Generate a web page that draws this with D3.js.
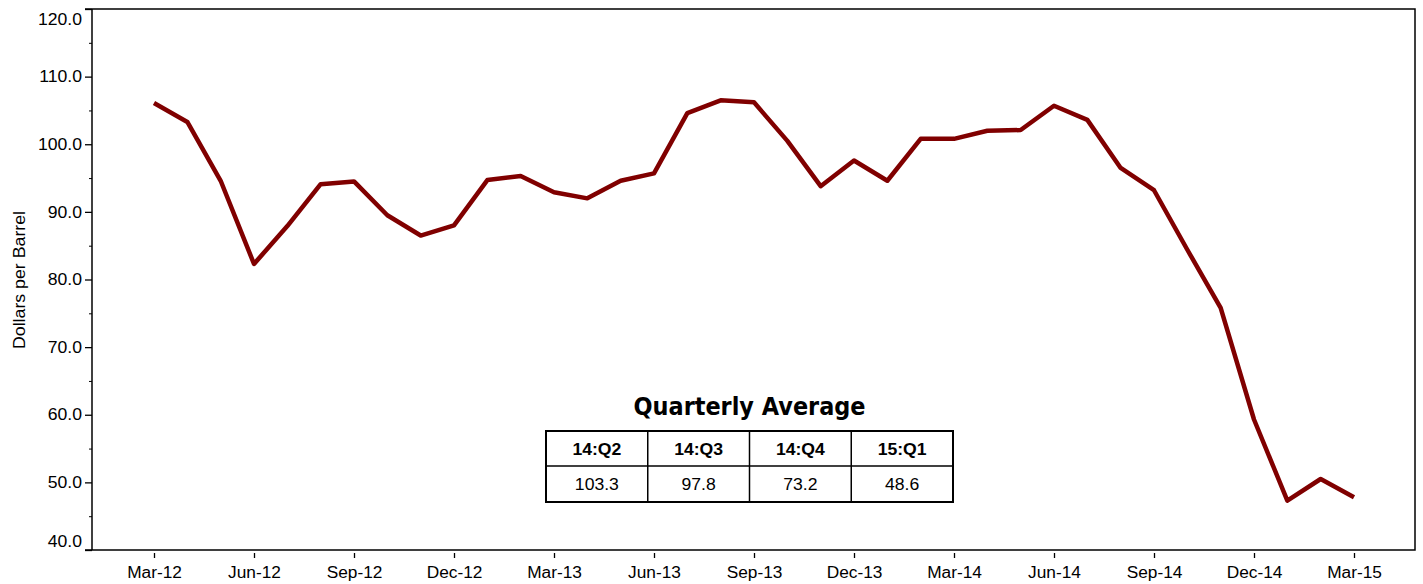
<!DOCTYPE html>
<html><head><meta charset="utf-8">
<script src="https://cdn.jsdelivr.net/npm/d3@7"></script>
<style>body{margin:0;background:#fff}svg{display:block}</style>
</head><body>
<svg id="c" width="1423" height="584"></svg>
<script>
const months = ["Mar-12","Apr-12","May-12","Jun-12","Jul-12","Aug-12","Sep-12","Oct-12","Nov-12","Dec-12",
"Jan-13","Feb-13","Mar-13","Apr-13","May-13","Jun-13","Jul-13","Aug-13","Sep-13","Oct-13","Nov-13","Dec-13",
"Jan-14","Feb-14","Mar-14","Apr-14","May-14","Jun-14","Jul-14","Aug-14","Sep-14","Oct-14","Nov-14","Dec-14",
"Jan-15","Feb-15","Mar-15"];
const prices = [106.1,103.3,94.6,82.3,87.9,94.1,94.5,89.5,86.5,88.0,
94.7,95.3,92.9,92.0,94.6,95.7,104.6,106.5,106.2,100.5,93.8,97.6,
94.6,100.8,100.8,102.0,102.1,105.7,103.6,96.5,93.2,84.4,75.8,59.3,
47.3,50.5,47.8];
const xTickLabels = ["Mar-12","Jun-12","Sep-12","Dec-12","Mar-13","Jun-13","Sep-13","Dec-13","Mar-14","Jun-14","Sep-14","Dec-14","Mar-15"];
const yTicks = [40,50,60,70,80,90,100,110,120];
const yMinorTicks = [45,55,65,75,85,95,105,115];
const quarters = ["14:Q2","14:Q3","14:Q4","15:Q1"];
const quarterAvg = ["103.3","97.8","73.2","48.6"];

const FONT = "Arial, 'Liberation Sans', sans-serif";
const svg = d3.select("#c");
const L = 92, R = 1415, T = 9, B = 550;
const x = d3.scaleLinear().domain([0, months.length-1]).range([154, 1354]);
const y = d3.scaleLinear().domain([40,120]).range([B, T]);

function stretch(sel, k) {
  sel.each(function(){
    const w = this.getComputedTextLength();
    d3.select(this).attr("textLength", w*k).attr("lengthAdjust","spacingAndGlyphs");
  });
}

// frame
svg.append("path").attr("d", `M${L-7},${T}H${R}V${B}H${L-7}`).attr("fill","none").attr("stroke","#000").attr("stroke-width",1.5);
svg.append("line").attr("x1",L).attr("x2",L).attr("y1",T).attr("y2",B).attr("stroke","#000").attr("stroke-width",1.5);

// y axis
const yAxis = svg.append("g").attr("transform",`translate(${L},0)`)
  .call(d3.axisLeft(y).tickValues(yTicks).tickSize(7).tickPadding(3).tickFormat(d3.format(".1f")));
yAxis.select(".domain").remove();
yAxis.selectAll("text").attr("font-family",FONT).attr("font-size",16).attr("fill","#000").call(stretch,1.1);
yAxis.selectAll(".tick").filter(d => d === 120).select("text").attr("y", 10);
yAxis.selectAll(".tick").filter(d => d === 40).select("text").attr("y", -9);
yAxis.selectAll("line").attr("stroke-width",1.3);
const yMinor = svg.append("g").attr("transform",`translate(${L},0)`)
  .call(d3.axisLeft(y).tickValues(yMinorTicks).tickSize(3).tickFormat(""));
yMinor.select(".domain").remove();

// x axis
const xAxis = svg.append("g").attr("transform",`translate(0,${B+3})`)
  .call(d3.axisBottom(x).tickValues(xTickLabels.map(l => months.indexOf(l))).tickSize(5).tickPadding(9)
  .tickFormat(i => months[i]));
xAxis.select(".domain").remove();
xAxis.selectAll("text").attr("font-family",FONT).attr("font-size",16).attr("fill","#000").call(stretch,1.08);
xAxis.selectAll("line").attr("stroke-width",1.3);

// y label
svg.append("text").attr("transform","translate(25,280) rotate(-90)").attr("text-anchor","middle")
  .attr("font-family",FONT).attr("font-size",16).text("Dollars per Barrel")
  .attr("textLength",138).attr("lengthAdjust","spacingAndGlyphs");

// line
svg.append("path").datum(prices)
  .attr("d", d3.line().x((d,i)=>x(i)).y(d=>y(d)))
  .attr("fill","none").attr("stroke","#800000").attr("stroke-width",4.5).attr("stroke-linejoin","round");

// table
const tx0 = 546, tw = 101.75, ty0 = 431, rh = 35;
svg.append("text").attr("x", tx0 + 2*tw).attr("y", 415).attr("text-anchor","middle")
  .attr("font-family","'DejaVu Sans', sans-serif").attr("font-weight","bold").attr("font-size",24)
  .attr("textLength", 232).attr("lengthAdjust","spacingAndGlyphs").text("Quarterly Average");
const tg = svg.append("g");
tg.append("rect").attr("x",tx0).attr("y",ty0).attr("width",4*tw).attr("height",2*rh+1)
  .attr("fill","#fff").attr("stroke","#000").attr("stroke-width",2);
tg.append("line").attr("x1",tx0).attr("x2",tx0+4*tw).attr("y1",ty0+rh).attr("y2",ty0+rh).attr("stroke","#000").attr("stroke-width",1.5);
quarters.forEach((q,i)=>{
  if(i>0) tg.append("line").attr("x1",tx0+i*tw).attr("x2",tx0+i*tw).attr("y1",ty0).attr("y2",ty0+2*rh+1).attr("stroke","#000").attr("stroke-width",1.5);
  tg.append("text").attr("x",tx0+(i+0.5)*tw).attr("y",ty0+rh/2+6).attr("text-anchor","middle")
    .attr("font-family",FONT).attr("font-weight","bold").attr("font-size",16).text(q).call(stretch,1.1);
  tg.append("text").attr("x",tx0+(i+0.5)*tw).attr("y",ty0+rh+rh/2+6).attr("text-anchor","middle")
    .attr("font-family",FONT).attr("font-size",16).text(quarterAvg[i]).call(stretch,1.1);
});
</script>
</body></html>
